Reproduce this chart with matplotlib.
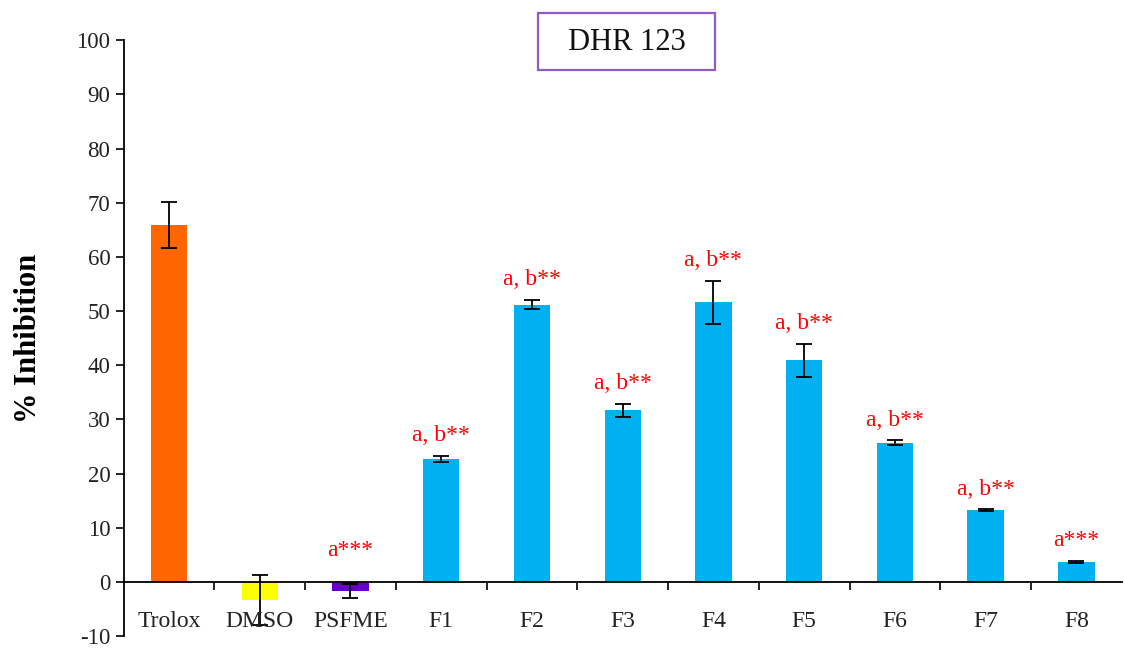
import matplotlib.pyplot as plt
from matplotlib.patches import Rectangle
import numpy as np

# DHR 123 assay - % inhibition per sample
samples = ["Trolox", "DMSO", "PSFME", "F1", "F2", "F3", "F4", "F5", "F6", "F7", "F8"]
inhibition = [65.9, -3.4, -1.7, 22.7, 51.2, 31.7, 51.6, 40.9, 25.7, 13.2, 3.7]
sem = [4.3, 4.6, 1.3, 0.6, 0.8, 1.2, 4.0, 3.0, 0.4, 0.2, 0.2]
signif = ["", "", "a***", "a, b**", "a, b**", "a, b**", "a, b**",
          "a, b**", "a, b**", "a, b**", "a***"]
colors = ["#FF6600", "#FFFF00", "#6600CC"] + ["#00B0F0"] * 8

plt.rcParams['font.family'] = ['Liberation Serif', 'DejaVu Serif']
plt.rcParams['axes.unicode_minus'] = False

fig = plt.figure(figsize=(11.24, 6.49), dpi=100)
ax = fig.add_axes([0.110, 0.020, 0.888, 0.918])

x = np.arange(len(samples))
ax.bar(x, inhibition, width=0.4, color=colors, zorder=2)
ax.errorbar(x, inhibition, yerr=sem, fmt='none', ecolor='black',
            elinewidth=1.3, capsize=6, capthick=1.3, zorder=3)

for i in range(len(samples)):
    if signif[i]:
        top = max(inhibition[i] + sem[i], 2)
        ax.text(x[i], top + 1.8, signif[i], color='#FF0000', fontsize=17,
                ha='center', va='bottom')

ax.set_xlim(-0.5, len(samples) - 0.5)
ax.set_ylim(-10, 100)
ax.set_yticks(np.arange(-10, 101, 10))
ax.tick_params(axis='y', labelsize=16.5, length=6, width=1.2, direction='out',
               labelcolor='#222222')

# x axis sits on the zero line, ticks between the categories
ax.spines['bottom'].set_position(('data', 0))
ax.spines['top'].set_visible(False)
ax.spines['right'].set_visible(False)
ax.spines['left'].set_linewidth(1.3)
ax.spines['bottom'].set_linewidth(1.3)
ax.set_xticks(x[:-1] + 0.5)
ax.set_xticklabels([])
ax.tick_params(axis='x', length=6, width=1.2, direction='out')
for i in range(len(samples)):
    ax.text(x[i], -7.4, samples[i], fontsize=17, ha='center', va='center',
            color='#222222')

ax.set_ylabel("% Inhibition", fontsize=22, fontweight='bold', labelpad=24)

# title box
fig.patches.append(Rectangle((0.4786, 0.892), 0.1575, 0.088,
                             transform=fig.transFigure, facecolor='white',
                             edgecolor='#8E5CC4', linewidth=1.6))
fig.text(0.558, 0.935, "DHR 123", fontsize=22, ha='center', va='center',
         color='#111111')

fig.savefig("out.png", dpi=100)
